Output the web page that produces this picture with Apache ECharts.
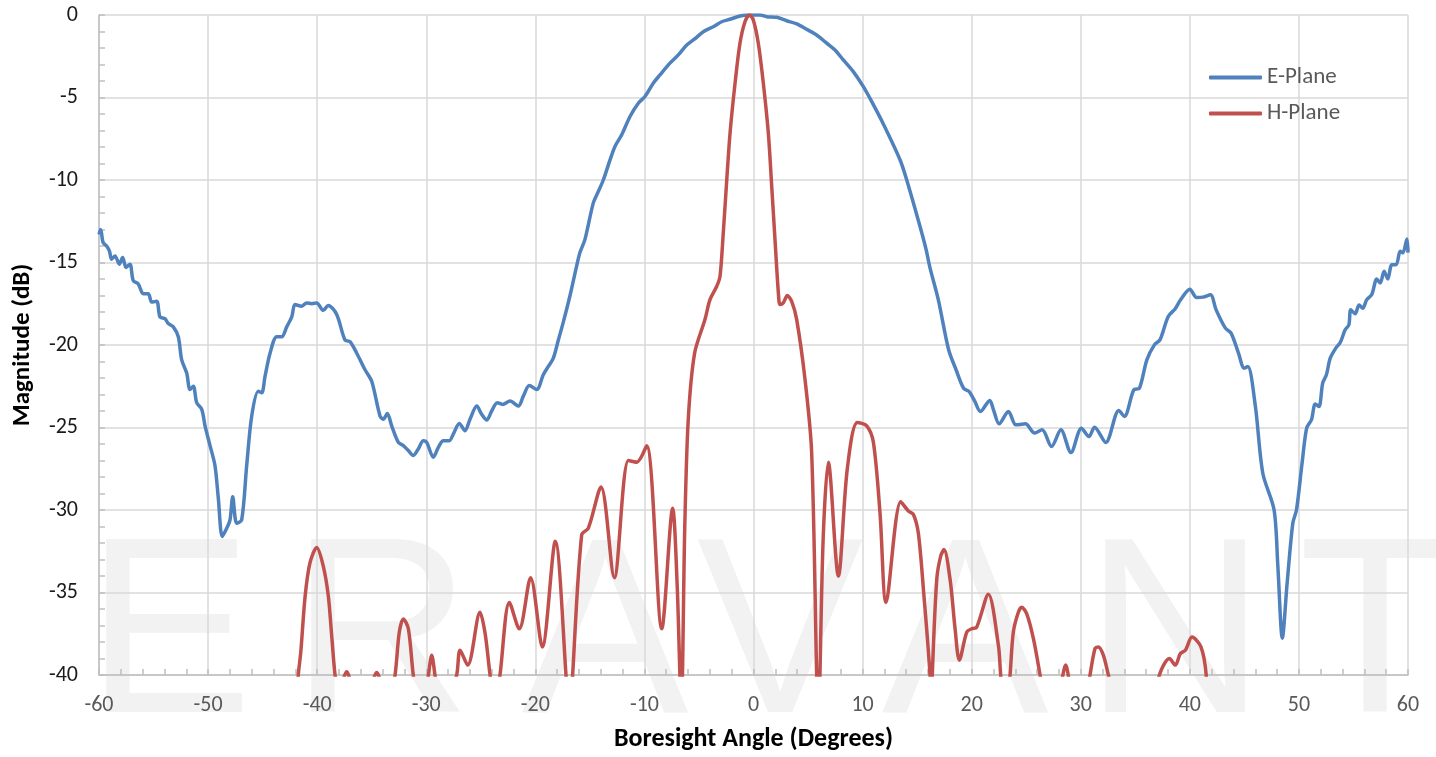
<!DOCTYPE html>
<html><head><meta charset="utf-8">
<script src="https://cdn.jsdelivr.net/npm/echarts@6/dist/echarts.min.js"></script>
<style>html,body{margin:0;padding:0;background:#fff}#chart{width:1436px;height:757px}</style>
</head><body><div id="chart"></div>
<script>
const seriesNames = ['E-Plane', 'H-Plane'];

const ePlaneAngle = [-60.00,-59.85,-59.62,-59.30,-59.05,-58.84,-58.53,-58.14,-57.83,-57.52,-57.16,-56.86,-56.40,-55.94,-55.48,-55.17,-54.71,-54.41,-53.95,-53.65,-53.19,-52.73,-52.42,-51.96,-51.66,-51.35,-51.04,-50.58,-50.28,-49.82,-49.37,-49.06,-48.70,-48.29,-47.99,-47.74,-47.38,-46.92,-46.46,-46.00,-45.40,-45.08,-44.78,-44.32,-43.71,-43.25,-42.79,-42.33,-42.03,-41.42,-40.96,-40.50,-40.04,-39.44,-38.98,-38.21,-37.45,-36.99,-36.37,-35.61,-35.00,-34.24,-33.94,-33.57,-33.17,-32.56,-32.10,-31.64,-31.19,-30.73,-30.27,-29.96,-29.35,-28.89,-28.44,-27.89,-27.52,-26.97,-26.45,-25.99,-25.37,-24.92,-24.46,-24.00,-23.49,-23.00,-22.32,-21.56,-21.10,-20.55,-19.87,-19.27,-18.81,-18.35,-17.89,-17.43,-16.82,-16.21,-15.91,-15.45,-14.69,-14.23,-13.77,-13.16,-12.70,-12.08,-11.32,-10.56,-9.95,-9.19,-8.57,-7.66,-6.89,-6.12,-5.21,-4.60,-3.69,-2.92,-2.15,-1.24,-0.48,0.60,1.21,2.13,3.04,3.96,4.88,5.79,6.71,7.47,8.23,9.15,10.07,10.84,11.90,13.43,14.04,15.26,15.83,16.17,16.94,17.89,18.57,19.26,19.77,20.29,20.80,21.66,22.00,22.52,23.37,24.06,24.92,25.77,26.46,27.32,28.18,29.10,30.06,30.75,31.26,32.29,33.49,34.00,34.86,35.38,36.06,36.75,37.26,38.02,38.63,39.15,40.00,40.62,41.21,41.89,42.41,43.26,43.78,44.46,44.98,45.32,46.01,46.69,47.72,48.07,48.48,48.92,49.44,49.78,50.29,50.71,51.15,51.50,51.84,52.18,52.52,52.87,53.38,53.79,54.24,54.58,54.75,55.16,55.51,55.85,56.22,56.68,57.14,57.45,57.81,58.15,58.52,58.92,59.28,59.53,59.90,60.00];
const ePlaneMag = [-13.3,-13.0,-13.8,-14.0,-14.3,-14.8,-14.6,-15.1,-14.7,-15.3,-15.1,-16.1,-16.3,-16.9,-16.9,-17.4,-17.35,-18.3,-18.4,-18.7,-18.9,-19.5,-20.9,-21.7,-22.7,-22.5,-23.5,-23.9,-24.9,-26.1,-27.3,-29.3,-31.6,-31.1,-30.6,-29.2,-30.8,-30.6,-27.3,-24.3,-22.8,-22.9,-21.9,-20.5,-19.5,-19.5,-18.9,-18.3,-17.55,-17.65,-17.45,-17.5,-17.45,-17.9,-17.6,-18.15,-19.7,-19.8,-20.5,-21.5,-22.2,-24.3,-24.5,-24.15,-24.9,-25.9,-26.1,-26.4,-26.7,-26.3,-25.8,-25.9,-26.8,-26.2,-25.8,-25.8,-25.4,-24.75,-25.2,-24.5,-23.7,-24.2,-24.55,-24.0,-23.5,-23.6,-23.4,-23.7,-23.1,-22.45,-22.7,-21.8,-21.3,-20.8,-19.7,-18.6,-17.0,-15.2,-14.4,-13.6,-11.4,-10.7,-10.0,-8.8,-7.97,-7.26,-6.15,-5.35,-4.94,-4.13,-3.63,-2.92,-2.42,-1.82,-1.35,-1.01,-0.71,-0.41,-0.26,-0.06,0,0,-0.1,-0.14,-0.35,-0.54,-0.87,-1.21,-1.71,-2.12,-2.72,-3.43,-4.34,-5.25,-6.6,-8.77,-9.98,-12.8,-14.23,-15.3,-17.25,-20.29,-21.5,-22.62,-22.82,-23.42,-24.03,-23.36,-23.93,-24.78,-24.03,-24.84,-24.78,-25.34,-25.14,-26.15,-25.14,-26.52,-25.04,-25.55,-24.98,-25.91,-23.97,-24.33,-22.72,-22.62,-20.9,-19.99,-19.69,-18.27,-17.83,-17.26,-16.62,-17.12,-17.1,-16.96,-17.87,-18.98,-19.28,-20.49,-21.4,-21.3,-23.73,-27.77,-29.99,-33.42,-37.77,-34.43,-30.8,-29.99,-27.16,-25.04,-24.53,-23.57,-23.73,-22.31,-21.81,-20.8,-20.19,-19.85,-19.08,-18.78,-17.87,-18.11,-17.57,-17.77,-17.25,-16.94,-16.0,-16.24,-15.53,-16.0,-15.13,-15.13,-14.32,-14.42,-13.57,-14.4];

const hPlaneAngle = [-42.30,-41.73,-41.50,-41.10,-40.66,-40.04,-39.44,-38.98,-38.67,-38.36,-37.90,-37.60,-37.29,-37.00,-36.60,-35.50,-34.85,-34.54,-34.25,-33.70,-32.86,-32.47,-32.10,-31.64,-31.19,-30.50,-29.80,-29.50,-29.20,-28.50,-27.21,-26.90,-26.20,-25.07,-24.60,-24.15,-23.70,-23.24,-22.38,-21.47,-20.43,-19.36,-18.17,-17.19,-16.90,-16.58,-15.75,-15.14,-13.98,-12.76,-11.47,-10.70,-9.79,-8.41,-7.41,-7.00,-6.62,-6.30,-5.98,-5.40,-4.45,-3.99,-3.37,-3.07,-2.77,-2.45,-2.15,-1.69,-1.24,-0.78,-0.38,-0.02,0.44,0.90,1.36,1.67,1.97,2.28,2.43,2.73,3.10,3.50,3.96,4.72,5.33,5.79,5.95,6.09,6.40,6.86,7.78,8.60,9.52,10.38,10.99,11.60,12.15,13.50,14.20,14.65,15.11,15.60,16.18,16.30,16.39,16.80,17.16,17.46,18.02,18.48,18.87,19.55,20.00,20.46,21.53,22.45,22.66,23.10,23.52,23.82,24.28,24.59,25.05,25.66,26.27,27.30,28.25,28.62,28.95,29.80,30.85,31.31,31.61,32.07,32.53,34.80,37.21,38.13,38.67,39.13,39.59,40.20,41.02,41.50,42.00];
const hPlaneMag = [-46,-40,-38.6,-35.2,-33.2,-32.27,-33.4,-35.2,-37.6,-40,-42,-40.3,-39.8,-40.3,-42.5,-43,-40.3,-39.85,-40.3,-43,-40,-37.4,-36.6,-37.2,-40,-43,-40,-38.8,-40,-43,-40,-38.5,-39.4,-36.2,-37.5,-40,-42,-40,-35.6,-37.2,-34.1,-38.3,-31.9,-40,-44,-40,-31.5,-31.1,-28.6,-34.1,-27.0,-27.1,-26.1,-37.2,-29.9,-34.5,-42,-31,-24.5,-20.5,-18.46,-17.25,-16.44,-15.84,-13.2,-9.98,-7.16,-4.13,-1.71,-0.41,0,-0.3,-1.71,-4.13,-7.16,-10.39,-13.6,-16.84,-17.55,-17.45,-17.0,-17.35,-18.46,-22.07,-26.5,-40,-44,-40,-31.5,-27.1,-34.0,-27.5,-24.7,-24.9,-25.9,-30.2,-35.6,-29.5,-30.06,-30.26,-31.4,-35,-40,-43,-40,-34.2,-32.8,-32.4,-34.2,-37.2,-39.1,-37.4,-37.2,-37.1,-35.1,-38.2,-40,-43,-40,-37.4,-36.2,-35.9,-36.3,-37.8,-40,-44,-40.4,-39.4,-40.4,-44,-40,-38.4,-38.3,-38.8,-40,-46,-40,-39.0,-39.4,-38.7,-38.5,-37.7,-38.3,-40,-46];

const ePlaneData = ePlaneAngle.map((a, i) => [a, ePlaneMag[i]]);
const hPlaneData = hPlaneAngle.map((a, i) => [a, hPlaneMag[i]]);

const FONT = 'Carlito, Lato, "Open Sans", sans-serif';
const wmLetters = ['E', 'R', 'A', 'V', 'A', 'N', 'T'];

const chart = echarts.init(document.getElementById('chart'), null, {renderer: 'canvas'});
chart.setOption({
  animation: false,
  backgroundColor: '#ffffff',
  graphic: wmLetters.map((ch, i) => ({
    type: 'text', z: -10, silent: true,
    style: {
      text: ch, x: [169, 381, 605, 780, 965, 1175, 1375][i], y: 643,
      font: '400 250px "Liberation Sans", Arial, sans-serif',
      fill: '#f2f2f2', textAlign: 'center', textVerticalAlign: 'middle'
    }
  })),
  grid: {left: 99, right: 28, top: 15, bottom: 81, containLabel: false},
  legend: {
    orient: 'vertical', left: 1204, top: 61,
    icon: 'roundRect',
    itemWidth: 53, itemHeight: 4, itemGap: 13,
    textStyle: {fontFamily: FONT, fontSize: 23, color: '#595959'},
    data: seriesNames
  },
  xAxis: {
    type: 'value', min: -60, max: 60, interval: 10,
    name: 'Boresight Angle (Degrees)', nameLocation: 'middle', nameGap: 51,
    nameTextStyle: {fontFamily: FONT, fontSize: 26, fontWeight: 'bold', color: '#000'},
    axisLine: {show: true, onZero: false, lineStyle: {color: '#bfbfbf', width: 1.5}},
    axisTick: {show: true, inside: true, length: 6, lineStyle: {color: '#bfbfbf', width: 1.5}},
    minorTick: {show: true, splitNumber: 5, length: 6, lineStyle: {color: '#bfbfbf', width: 1.5}},
    axisLabel: {fontFamily: FONT, fontSize: 22, color: '#595959', margin: 19},
    splitLine: {show: true, lineStyle: {color: '#d9d9d9', width: 1.5}}
  },
  yAxis: {
    type: 'value', min: -40, max: 0, interval: 5,
    name: 'Magnitude (dB)', nameLocation: 'middle', nameGap: 64,
    nameTextStyle: {fontFamily: FONT, fontSize: 25, fontWeight: 'bold', color: '#000'},
    axisLine: {show: true, onZero: false, lineStyle: {color: '#bfbfbf', width: 1.5}},
    axisTick: {show: true, inside: true, length: 6, lineStyle: {color: '#bfbfbf', width: 1.5}},
    minorTick: {show: true, splitNumber: 5, length: 6, lineStyle: {color: '#bfbfbf', width: 1.5}},
    axisLabel: {fontFamily: FONT, fontSize: 22, color: '#1a1a1a', margin: 21},
    splitLine: {show: true, lineStyle: {color: '#d9d9d9', width: 1.5}}
  },
  series: [
    {name: seriesNames[0], type: 'line', data: ePlaneData, symbol: 'none', smooth: 0.3,
     clip: true, lineStyle: {color: '#4f81bd', width: 3.5}, itemStyle: {color: '#4f81bd'}, z: 3},
    {name: seriesNames[1], type: 'line', data: hPlaneData, symbol: 'none', smooth: 0.3,
     clip: true, lineStyle: {color: '#c0504d', width: 3.5}, itemStyle: {color: '#c0504d'}, z: 4}
  ]
});
</script></body></html>
